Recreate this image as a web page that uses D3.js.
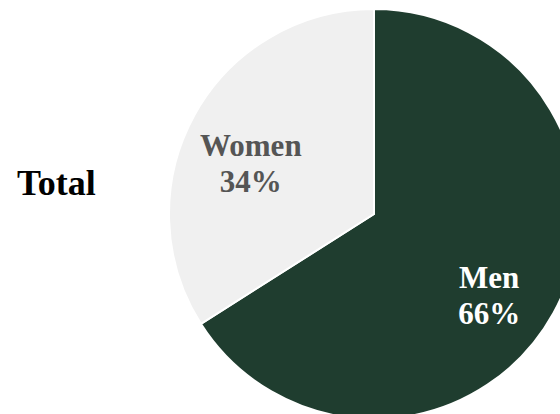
<!DOCTYPE html>
<html>
<head>
    <script src="https://cdnjs.cloudflare.com/ajax/libs/d3/7.8.5/d3.min.js"></script>
    <style>
        body { margin: 0; background: #fff; }
        svg { display: block; }
        text { font-family: "Liberation Serif", "Times New Roman", serif; font-weight: bold; }
    </style>
</head>
<body>
    <svg id="chart" width="560" height="414"></svg>
    <script>
        var groups = ["Men", "Women"]
        var shares = [66, 34]
        var colours = ["#1f3d2f", "#f0f0f0"]
        var labelColours = ["#ffffff", "#555555"]
        var title = "Total"

        var svg = d3.select("#chart")
        var cx = 374, cy = 214, r = 205

        var pie = d3.pie().sort(null).value(d => d.value)
        var slices = pie(groups.map((g, i) => ({ name: g, value: shares[i], i: i })))

        var arc = d3.arc().innerRadius(0).outerRadius(r)
        var labelArc = d3.arc().innerRadius(136).outerRadius(136)

        var g = svg.append("g").attr("transform", `translate(${cx},${cy})`)

        g.selectAll("path")
            .data(slices)
            .enter().append("path")
            .attr("d", arc)
            .style("fill", d => colours[d.data.i])
            .style("stroke", "#fff")
            .style("stroke-width", "2px")

        var labels = g.selectAll("text.lbl")
            .data(slices)
            .enter().append("text")
            .attr("class", "lbl")
            .attr("text-anchor", "middle")
            .attr("font-size", "31px")
            .style("fill", d => labelColours[d.data.i])
            .attr("transform", d => {
                var c = labelArc.centroid(d)
                return `translate(${c[0] - 4},${c[1] + 8})`
            })

        labels.append("tspan").attr("x", 0).attr("y", 0).text(d => d.data.name)
        labels.append("tspan").attr("x", 0).attr("y", 36).text(d => d.data.value + "%")

        svg.append("text")
            .attr("x", 17)
            .attr("y", 195)
            .attr("font-size", "36px")
            .style("fill", "#000")
            .text(title)
    </script>
</body>
</html>
